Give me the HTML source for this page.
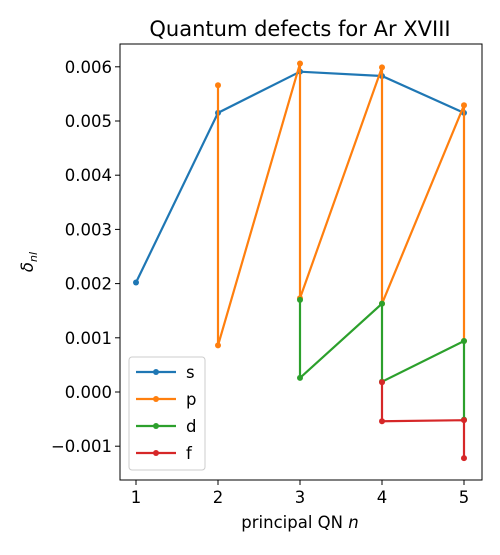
<!DOCTYPE html>
<html><head><meta charset="utf-8"><style>
body{margin:0;background:#fff;}
svg text{font-family:"DejaVu Sans","Liberation Sans",sans-serif;fill:#000;}
</style></head><body>
<svg id="chart" width="500" height="550" xmlns="http://www.w3.org/2000/svg">
<rect width="500" height="550" fill="#fff"/>
<text x="300" y="36" text-anchor="middle" font-size="21">Quantum defects for Ar XVIII</text>
<g id="plot"></g>
<rect x="120" y="44" width="362" height="436" fill="none" stroke="#000" stroke-width="1"/>
<text x="300" y="528" text-anchor="middle" font-size="16.5">principal QN <tspan font-style="italic">n</tspan></text>
<text transform="translate(33,262) rotate(-90)" text-anchor="middle" font-size="16.5"><tspan font-style="italic">δ</tspan><tspan font-style="italic" font-size="11" dy="4">nl</tspan></text>
</svg>
<script>
const xTicks=[1,2,3,4,5];
const yTicks=[-0.001,0,0.001,0.002,0.003,0.004,0.005,0.006];
const yTickLabels=["−0.001","0.000","0.001","0.002","0.003","0.004","0.005","0.006"];
const seriesNames=["s","p","d","f"];
const sX=[1,2,3,4,5];
const sY=[0.00202,0.00515,0.00591,0.00583,0.00515];
const pX=[2,2,3,3,4,4,5,5];
const pY=[0.00566,0.00086,0.00606,0.00173,0.00599,0.00163,0.00529,0.00094];
const dX=[3,3,4,4,5,5];
const dY=[0.00170,0.00026,0.00163,0.00019,0.00094,-0.00051];
const fX=[4,4,5,5];
const fY=[0.00018,-0.00054,-0.00052,-0.00122];
const colors=["#1f77b4","#ff7f0e","#2ca02c","#d62728"];
const xs=v=>136+(v-1)*82;
const ys=v=>392-v*54200;
const NS="http://www.w3.org/2000/svg";
const svg=document.getElementById('chart');
const plot=document.getElementById('plot');
function mk(t,a,p){const e=document.createElementNS(NS,t);for(const k in a)e.setAttribute(k,a[k]);(p||svg).appendChild(e);return e;}
xTicks.forEach(t=>{
  const l=mk('line',{x1:xs(t),x2:xs(t),y1:480,y2:485,stroke:'#000'});
  
  
  const tx=mk('text',{x:xs(t),y:503,'text-anchor':'middle','font-size':16.5});
  tx.textContent=t;
  
  
});
yTicks.forEach((t,i)=>{
  const l=mk('line',{x1:115,x2:120,y1:ys(t),y2:ys(t),stroke:'#000'});
  
  
  const tx=mk('text',{x:112,y:ys(t)+6,'text-anchor':'end','font-size':16.5});
  tx.textContent=yTickLabels[i];
  
  
});
const all=[[sX,sY],[pX,pY],[dX,dY],[fX,fY]];
all.forEach(([X,Y],si)=>{
  const pts=X.map((x,i)=>xs(x)+','+ys(Y[i])).join(' ');
  const pl=mk('polyline',{points:pts,fill:'none',stroke:colors[si],'stroke-width':2.2},plot);
  
  
  X.forEach((x,i)=>{
    const c=mk('circle',{cx:xs(x),cy:ys(Y[i]),r:3,fill:colors[si]},plot);
    
    
  });
});
const lg=mk('g',{});


mk('rect',{x:129,y:357,width:76,height:113,rx:3,fill:'#fff','fill-opacity':0.8,stroke:'#ccc'},lg);
seriesNames.forEach((n,i)=>{
  const y=372+i*27;
  const g=mk('g',{},lg);
  
  
  mk('line',{x1:136,x2:176,y1:y,y2:y,stroke:colors[i],'stroke-width':2.2},g);
  mk('circle',{cx:156,cy:y,r:3,fill:colors[i]},g);
  const t=mk('text',{x:186,y:y+6,'font-size':16.5},g);
  t.textContent=n;
});
</script>
</body></html>
